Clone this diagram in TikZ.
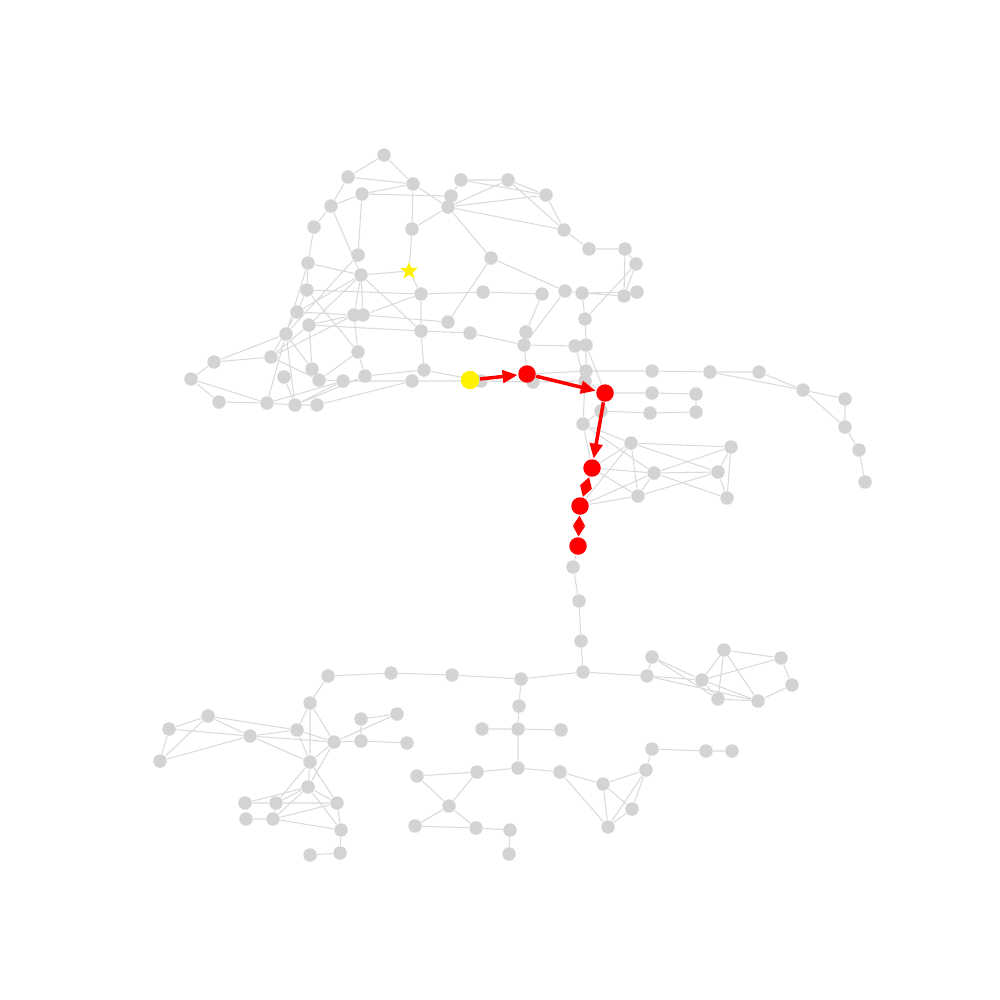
\documentclass[tikz,border=0pt]{standalone}
\usepackage{tikz}
\usetikzlibrary{arrows.meta,shapes.geometric,backgrounds}
\definecolor{nodegray}{HTML}{D3D3D3}
\definecolor{edgegray}{HTML}{DADADA}
\tikzset{
  gnode/.style={circle,fill=nodegray,inner sep=0pt,minimum size=1.35mm},
  rnode/.style={circle,fill=red,inner sep=0pt,minimum size=1.75mm},
  ynode/.style={circle,fill=yellow,inner sep=0pt,minimum size=1.85mm},
  goal/.style={star,star points=5,star point ratio=2.3,fill=yellow,inner sep=0pt,minimum size=1.8mm},
  edge/.style={edgegray,line width=0.3pt},
  walk/.style={red,line width=1pt,-{Triangle[length=1.5mm,width=1.25mm]}},
  twoway/.style={red,line width=1pt,{Triangle[length=1.05mm,width=1.15mm]}-{Triangle[length=1.05mm,width=1.15mm]}}
}
\begin{document}
\begin{tikzpicture}[x=0.01cm,y=-0.01cm]
  \useasboundingbox (0,0) rectangle (1000,1000);
  % upper left cluster
  \node[gnode] (t1) at (384,155) {}; \node[gnode] (t2) at (348,177) {}; \node[gnode] (t3) at (413,184) {};
  \node[gnode] (t4) at (362,194) {}; \node[gnode] (t5) at (331,206) {}; \node[gnode] (t6) at (314,227) {};
  \node[gnode] (t7) at (412,229) {}; \node[gnode] (t8) at (308,263) {}; \node[gnode] (t9) at (358,255) {};
  \node[gnode] (t10) at (361,275) {}; \node[gnode] (t11) at (307,290) {}; \node[gnode] (t12) at (421,294) {};
  \node[gnode] (t13) at (297,312) {}; \node[gnode] (t14) at (354,315) {}; \node[gnode] (t15) at (363,315) {};
  \node[gnode] (t16) at (309,325) {}; \node[gnode] (t17) at (421,331) {}; \node[gnode] (t18) at (286,334) {};
  \node[gnode] (t19) at (358,352) {}; \node[gnode] (t20) at (271,357) {}; \node[gnode] (t21) at (214,362) {};
  \node[gnode] (t22) at (284,377) {}; \node[gnode] (t23) at (312,369) {}; \node[gnode] (t24) at (319,380) {};
  \node[gnode] (t25) at (343,381) {}; \node[gnode] (t26) at (365,376) {}; \node[gnode] (t27) at (191,379) {};
  \node[gnode] (t28) at (219,402) {}; \node[gnode] (t29) at (267,403) {}; \node[gnode] (t30) at (295,405) {};
  \node[gnode] (t31) at (317,405) {}; \node[gnode] (t32) at (424,370) {}; \node[gnode] (t33) at (412,381) {};
  \node[gnode] (t34) at (448,322) {}; \node[gnode] (t35) at (470,333) {};
  \node[goal] (s) at (409,271) {};
  % upper middle
  \node[gnode] (m1) at (461,180) {}; \node[gnode] (m2) at (508,180) {}; \node[gnode] (m3) at (451,196) {};
  \node[gnode] (m4) at (448,207) {}; \node[gnode] (m5) at (546,195) {}; \node[gnode] (m6) at (564,230) {};
  \node[gnode] (m7) at (589,249) {}; \node[gnode] (m8) at (625,249) {}; \node[gnode] (m9) at (636,264) {};
  \node[gnode] (m10) at (491,258) {}; \node[gnode] (m11) at (483,292) {}; \node[gnode] (m12) at (542,294) {};
  \node[gnode] (m13) at (565,291) {}; \node[gnode] (m14) at (582,293) {}; \node[gnode] (m15) at (624,296) {};
  \node[gnode] (m16) at (637,292) {}; \node[gnode] (m17) at (526,332) {}; \node[gnode] (m18) at (524,345) {};
  \node[gnode] (m19) at (575,346) {}; \node[gnode] (m20) at (586,345) {}; \node[gnode] (m21) at (585,319) {};
  \node[gnode] (m22) at (586,371) {}; \node[gnode] (m23) at (585,381) {}; \node[gnode] (m24) at (481,381) {};
  \node[gnode] (m25) at (533,382) {}; \node[gnode] (m26) at (601,411) {}; \node[gnode] (m27) at (583,424) {};
  % right arm
  \node[gnode] (r1) at (652,371) {}; \node[gnode] (r2) at (710,372) {}; \node[gnode] (r3) at (759,372) {};
  \node[gnode] (r4) at (803,390) {}; \node[gnode] (r5) at (845,399) {}; \node[gnode] (r6) at (845,427) {};
  \node[gnode] (r7) at (859,450) {}; \node[gnode] (r8) at (865,482) {}; \node[gnode] (r9) at (652,393) {};
  \node[gnode] (r10) at (696,394) {}; \node[gnode] (r11) at (650,413) {}; \node[gnode] (r12) at (696,412) {};
  \node[gnode] (r13) at (631,443) {}; \node[gnode] (r14) at (731,447) {}; \node[gnode] (r15) at (654,473) {};
  \node[gnode] (r16) at (718,472) {}; \node[gnode] (r17) at (638,496) {}; \node[gnode] (r18) at (727,498) {};
  % chain down
  \node[gnode] (c1) at (573,567) {}; \node[gnode] (c2) at (579,601) {}; \node[gnode] (c3) at (581,641) {};
  % lower part
  \node[gnode] (b1) at (583,672) {}; \node[gnode] (b2) at (521,679) {}; \node[gnode] (b3) at (452,675) {};
  \node[gnode] (b4) at (391,673) {}; \node[gnode] (b5) at (328,676) {}; \node[gnode] (b6) at (310,703) {};
  \node[gnode] (b7) at (519,706) {}; \node[gnode] (b8) at (518,729) {}; \node[gnode] (b9) at (482,729) {};
  \node[gnode] (b10) at (561,730) {}; \node[gnode] (b11) at (518,768) {}; \node[gnode] (b12) at (477,772) {};
  \node[gnode] (b13) at (560,772) {}; \node[gnode] (b14) at (417,776) {}; \node[gnode] (b15) at (449,806) {};
  \node[gnode] (b16) at (415,826) {}; \node[gnode] (b17) at (476,828) {}; \node[gnode] (b18) at (510,830) {};
  \node[gnode] (b19) at (509,854) {}; \node[gnode] (b20) at (603,784) {}; \node[gnode] (b21) at (646,770) {};
  \node[gnode] (b22) at (652,749) {}; \node[gnode] (b23) at (706,751) {}; \node[gnode] (b24) at (732,751) {};
  \node[gnode] (b25) at (632,809) {}; \node[gnode] (b26) at (608,827) {};
  \node[gnode] (b27) at (647,676) {}; \node[gnode] (b28) at (652,657) {}; \node[gnode] (b29) at (702,680) {};
  \node[gnode] (b30) at (724,650) {}; \node[gnode] (b31) at (781,658) {}; \node[gnode] (b32) at (792,685) {};
  \node[gnode] (b33) at (718,699) {}; \node[gnode] (b34) at (758,701) {};
  \node[gnode] (b35) at (208,716) {}; \node[gnode] (b36) at (169,729) {}; \node[gnode] (b37) at (250,736) {};
  \node[gnode] (b38) at (297,730) {}; \node[gnode] (b39) at (334,742) {}; \node[gnode] (b40) at (361,719) {};
  \node[gnode] (b41) at (397,714) {}; \node[gnode] (b42) at (361,741) {}; \node[gnode] (b43) at (407,743) {};
  \node[gnode] (b44) at (160,761) {}; \node[gnode] (b45) at (310,762) {}; \node[gnode] (b46) at (308,787) {};
  \node[gnode] (b47) at (245,803) {}; \node[gnode] (b48) at (276,803) {}; \node[gnode] (b49) at (337,803) {};
  \node[gnode] (b50) at (246,819) {}; \node[gnode] (b51) at (273,819) {}; \node[gnode] (b52) at (341,830) {};
  \node[gnode] (b53) at (310,855) {}; \node[gnode] (b54) at (340,853) {};
  % the walk
  \node[ynode] (y) at (470,380) {};
  \node[rnode] (p1) at (527,374) {}; \node[rnode] (p2) at (605,393) {}; \node[rnode] (p3) at (592,468) {};
  \node[rnode] (p4) at (580,506) {}; \node[rnode] (p5) at (578,546) {};
  \begin{scope}[on background layer]
    \draw[edge] (t1)--(t2) (t1)--(t3) (t2)--(t3) (t2)--(t5) (t4)--(t3) (t4)--(m3) (t3)--(m4) (t5)--(t4)
      (t5)--(t6) (t6)--(t8) (t5)--(t10) (t4)--(t9) (t3)--(t7) (t7)--(s) (t7)--(m4) (t8)--(t10)
      (t10)--(s) (s)--(t12) (t11)--(t12) (t8)--(t11) (t8)--(t18) (t11)--(t19) (t11)--(t13) (t15)--(t12)
      (t14)--(t13) (t16)--(t17) (t14)--(t19) (t19)--(t26) (t26)--(t32) (t10)--(t17) (t10)--(t14)
      (t10)--(t15) (t10)--(t16) (t10)--(t13) (t9)--(t18) (t12)--(t17) (t17)--(t32) (t12)--(m11)
      (t21)--(t27) (t27)--(t28) (t27)--(t29) (t21)--(t20) (t21)--(t18) (t28)--(t29) (t20)--(t16)
      (t20)--(t14) (t20)--(t24) (t29)--(t30) (t30)--(t31) (t30)--(t25) (t30)--(t26) (t23)--(t24)
      (t22)--(t30) (t13)--(t20) (t16)--(t23) (t18)--(t23) (t18)--(t30) (t18)--(t29) (t19)--(t24)
      (t24)--(t25) (t29)--(t25) (t25)--(t33) (t31)--(t33) (t32)--(m24) (t33)--(m24) (t15)--(t34)
      (t34)--(m10) (t17)--(t35) (t35)--(m18) (t16)--(t14);
    \draw[edge] (m1)--(m2) (m1)--(m3) (m1)--(m5) (m2)--(m5) (m2)--(m6) (m3)--(m4) (m4)--(m2)
      (m4)--(m5) (m4)--(m6) (m4)--(m10) (m5)--(m6) (m6)--(m7) (m7)--(m8) (m8)--(m9) (m8)--(m15)
      (m9)--(m15) (m9)--(m21) (m10)--(m13) (m11)--(m12) (m12)--(m17) (m13)--(m18) (m13)--(m14)
      (m14)--(m15) (m14)--(m16) (m14)--(m21) (m17)--(m18) (m18)--(m19) (m18)--(p1) (m19)--(m23)
      (m20)--(m21) (m20)--(m22) (m20)--(p2) (m22)--(r1) (m22)--(p1) (m23)--(p2) (m23)--(m27)
      (m24)--(m25) (m25)--(m23) (m26)--(m27) (m26)--(r11) (m27)--(r13) (m27)--(r15) (m27)--(p3);
    \draw[edge] (r1)--(r2) (r2)--(r3) (r2)--(r4) (r3)--(r4) (r4)--(r5) (r4)--(r6) (r5)--(r6)
      (r6)--(r7) (r7)--(r8) (p2)--(r9) (r9)--(r10) (r10)--(r12) (r11)--(r12) (r13)--(p3)
      (r13)--(r14) (r13)--(r16) (r13)--(r17) (r13)--(p4) (p3)--(r15) (p3)--(r17) (r15)--(r14)
      (r15)--(r16) (r15)--(r18) (r15)--(r17) (r15)--(p4) (r14)--(r16) (r14)--(r18) (r17)--(r16)
      (p4)--(r17) (r16)--(r18) (p5)--(c1) (c1)--(c2) (c2)--(c3) (c3)--(b1);
    \draw[edge] (b1)--(b2) (b2)--(b3) (b3)--(b4) (b4)--(b5) (b5)--(b6) (b2)--(b7) (b7)--(b8)
      (b8)--(b9) (b8)--(b10) (b8)--(b11) (b11)--(b12) (b11)--(b13) (b12)--(b14) (b12)--(b15)
      (b14)--(b15) (b15)--(b16) (b15)--(b17) (b16)--(b17) (b17)--(b18) (b18)--(b19) (b13)--(b20)
      (b13)--(b26) (b20)--(b21) (b20)--(b25) (b20)--(b26) (b21)--(b26) (b21)--(b25) (b21)--(b22)
      (b22)--(b23) (b23)--(b24) (b26)--(b25)
      (b1)--(b27) (b27)--(b28) (b27)--(b29) (b27)--(b34) (b28)--(b29) (b28)--(b33) (b29)--(b30)
      (b29)--(b31) (b29)--(b33) (b29)--(b34) (b30)--(b33) (b30)--(b34) (b30)--(b31) (b31)--(b32)
      (b32)--(b34) (b33)--(b34)
      (b6)--(b45) (b6)--(b39) (b6)--(b38) (b35)--(b36) (b35)--(b44) (b35)--(b37) (b35)--(b38)
      (b36)--(b44) (b36)--(b37) (b44)--(b37) (b37)--(b38) (b37)--(b39) (b37)--(b45) (b38)--(b39)
      (b38)--(b45) (b39)--(b41) (b40)--(b41) (b40)--(b42) (b39)--(b42) (b42)--(b43) (b39)--(b45)
      (b39)--(b46) (b45)--(b46) (b45)--(b48) (b45)--(b49) (b46)--(b47) (b46)--(b48) (b46)--(b49)
      (b46)--(b52) (b46)--(b51) (b47)--(b48) (b48)--(b49) (b48)--(b51) (b50)--(b51) (b51)--(b49)
      (b51)--(b52) (b49)--(b52) (b52)--(b54) (b53)--(b54);
  \end{scope}
  \draw[walk] (y) -- (p1); \draw[walk] (p1) -- (p2); \draw[walk] (p2) -- (p3);
  \draw[twoway] (p3) -- (p4); \draw[twoway] (p4) -- (p5);
\end{tikzpicture}
\end{document}
